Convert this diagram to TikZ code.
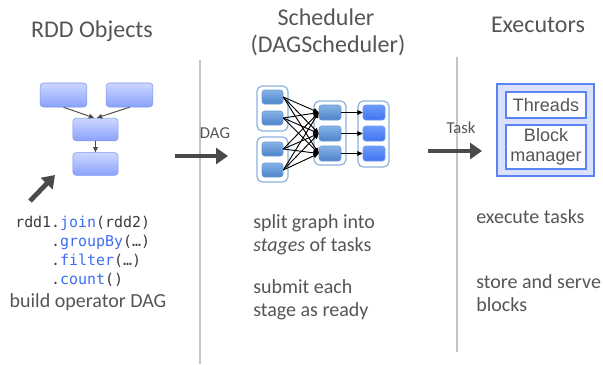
\documentclass[tikz,border=0pt]{standalone}
\usepackage{fontspec}
\setmainfont{Carlito}
\newfontfamily\codefont{DejaVu Sans Mono}
\newfontfamily\boxfont{Liberation Sans}
\usetikzlibrary{arrows.meta}
\definecolor{txtgray}{HTML}{555555}
\definecolor{sepgray}{HTML}{C4C4C4}
\definecolor{bigarrow}{HTML}{4A4A4A}
\definecolor{rddtop}{HTML}{CCD7FF}
\definecolor{rddbot}{HTML}{8AA2FA}
\definecolor{rddline}{HTML}{7C94F2}
\definecolor{stgtop}{HTML}{86B2E6}
\definecolor{stgbot}{HTML}{4D83CC}
\definecolor{stgline}{HTML}{6C9AD2}
\definecolor{fintop}{HTML}{6E9CF8}
\definecolor{finbot}{HTML}{3F72F2}
\definecolor{grpline}{HTML}{8EB2DA}
\definecolor{exfill}{HTML}{D9E1FF}
\definecolor{exline}{HTML}{5B82F2}
\definecolor{codeblue}{HTML}{3C6EF0}

\begin{document}
\begin{tikzpicture}[x=0.75pt,y=-0.75pt,
  title/.style={text=txtgray,font=\fontsize{18}{20}\selectfont,anchor=base},
  body/.style={text=txtgray,font=\fontsize{15}{17.25}\selectfont,align=left,anchor=west,inner sep=0},
  lbl/.style={text=txtgray,font=\fontsize{12.5}{14}\selectfont},
  rdd/.style={rectangle,rounded corners=2.5pt,draw=rddline,top color=rddtop,bottom color=rddbot,minimum width=35pt,minimum height=18pt,inner sep=0},
  grp/.style={rectangle,rounded corners=4pt,draw=grpline,line width=0.9pt,fill=white,inner sep=0},
  stg/.style={rectangle,rounded corners=2pt,draw=stgline,top color=stgtop,bottom color=stgbot,minimum width=15.75pt,minimum height=10.5pt,inner sep=0},
  fin/.style={stg,draw=fintop,top color=fintop,bottom color=finbot,minimum width=16.5pt,minimum height=11.25pt},
  inbox/.style={rectangle,draw=exline,fill=white,line width=0.8pt,minimum width=60pt,inner sep=0,font=\boxfont\fontsize{13.5}{15.5}\selectfont,text=txtgray,align=center},
  sep/.style={draw=sepgray,line width=1.5pt},
  big/.style={draw=bigarrow,line width=3.6pt,-{Triangle[length=9pt,width=12pt]}},
  small/.style={-{Triangle[length=4pt,width=3.5pt]},line width=0.7pt}]
\useasboundingbox (0,0) rectangle (603,364);
% separators
\coordinate (s1a) at (200,60);
\coordinate (s1b) at (200,364);
\coordinate (s2a) at (457,57);
\coordinate (s2b) at (457,352);
\path[sep] (s1a) -- (s1b);
\path[sep] (s2a) -- (s2b);
% titles
\path (92,37.5) node[title] (trdd) {RDD Objects};
\path (326,25) node[title] (tsch) {Scheduler};
\path (328,52) node[title] (tdag) {(DAGScheduler)};
\path (538,32.5) node[title] (texe) {Executors};
% rdd graph
\path (63.5,95) node[rdd] (r1) {};
\path (129.5,95) node[rdd] (r2) {};
\path (95.5,129.5) node[rdd,minimum width=34pt,minimum height=17pt] (r3) {};
\path (95.5,164) node[rdd,minimum width=34pt,minimum height=17pt] (r4) {};
\draw[bigarrow,small] (r1.south) -- ([xshift=-1pt]r3.north);
\draw[bigarrow,small] (r2.south) -- ([xshift=1pt]r3.north);
\draw[bigarrow,small] (r3) -- (r4);
\coordinate (p0) at (30,201);
\coordinate (p1) at (55,175);
\draw[big] (p0) -- (p1);
% code
\path (15,215.5) node[anchor=north west,inner sep=0,align=left,text=txtgray!70!black,
  font=\codefont\fontsize{11.2}{14.25}\selectfont] (code)
  {rdd1.{\color{codeblue}join}(rdd2)\\
   \phantom{rdd1}.{\color{codeblue}groupBy}(…)\\
   \phantom{rdd1}.{\color{codeblue}filter}(…)\\
   \phantom{rdd1}.{\color{codeblue}count}()};
\path (88,302) node[body,anchor=center] (build) {build operator DAG};
% dag arrow
\coordinate (d0) at (175,156);
\coordinate (d1) at (228,156);
\draw[big] (d0) -- (d1);
\path (215,133) node[lbl] (ldag) {DAG};
% stages
\path (272.5,108.5) node[grp,minimum width=23.25pt,minimum height=33.75pt] (ga) {};
\path (272.5,159.5) node[grp,minimum width=23.25pt,minimum height=33.75pt] (gb) {};
\path (330,133) node[grp,minimum width=24pt,minimum height=48pt] (gc) {};
\path (373.5,134) node[grp,minimum width=23.25pt,minimum height=49.5pt] (gd) {};
\path (272.5,97) node[stg] (a1) {};
\path (272.5,118) node[stg] (a2) {};
\path (272.5,149) node[stg] (a3) {};
\path (272.5,170) node[stg] (a4) {};
\path (330,112.5) node[stg,minimum width=16.5pt,minimum height=11.25pt] (c1) {};
\path (330,133.5) node[stg,minimum width=16.5pt,minimum height=11.25pt] (c2) {};
\path (330,153.5) node[stg,minimum width=16.5pt,minimum height=11.25pt] (c3) {};
\path (374,112.5) node[fin] (f1) {};
\path (374,133.5) node[fin] (f2) {};
\path (374,153.5) node[fin] (f3) {};
\foreach \i in {1,...,4}
  \foreach \j in {1,2,3}
    \draw[small] (a\i.east) -- (c\j.west);
\foreach \j in {1,2,3}
  \draw[small] (c\j.east) -- (f\j.west);
\path (253,234.5) node[body] (split) {split graph into\\\textit{stages} of tasks};
\path (253,300) node[body] (submit) {submit each\\stage as ready};
% task arrow
\coordinate (k0) at (428,151);
\coordinate (k1) at (482,151);
\draw[big] (k0) -- (k1);
\path (461,128) node[lbl] (ltask) {Task};
% executor
\path (545.5,130) node[rectangle,draw=exline,fill=exfill,line width=1.5pt,minimum width=72.75pt,minimum height=69pt] (exec) {};
\path (546,105) node[inbox,minimum height=19.5pt] (thr) {Threads};
\path (546,147) node[inbox,minimum height=33pt] (blk) {Block\\manager};
\path (476,217) node[body] (run) {execute tasks};
\path (476,293) node[body] (store) {store and serve\\blocks};
\end{tikzpicture}
\end{document}
